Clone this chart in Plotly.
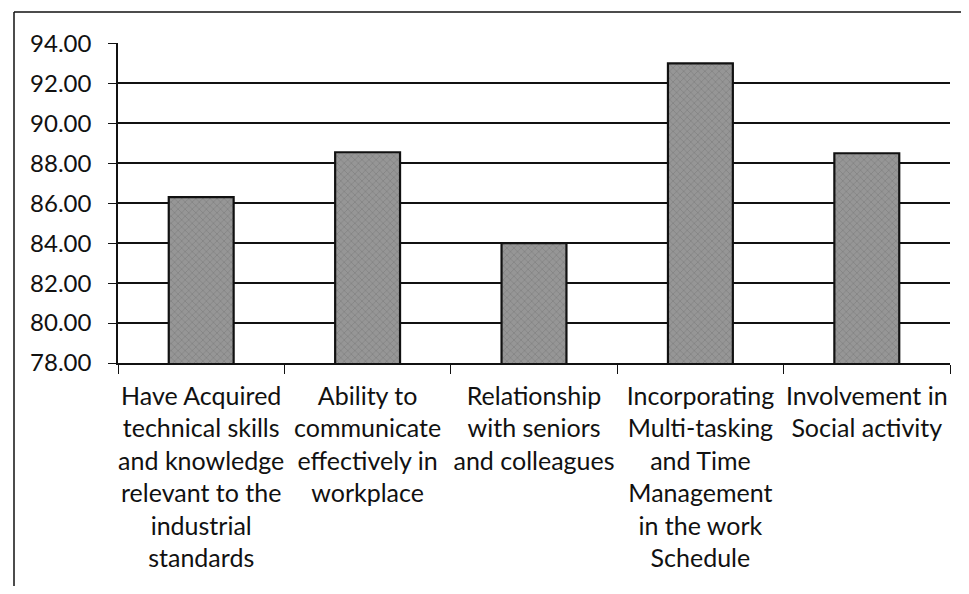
import plotly.graph_objects as go

categories = [
    "Have Acquired technical skills and knowledge relevant to the industrial standards",
    "Ability to communicate effectively in workplace",
    "Relationship with seniors and colleagues",
    "Incorporating Multi-tasking and Time Management in the work Schedule",
    "Involvement in Social activity",
]
tick_labels = [
    "Have Acquired<br>technical skills<br>and knowledge<br>relevant to the<br>industrial<br>standards",
    "Ability to<br>communicate<br>effectively in<br>workplace",
    "Relationship<br>with seniors<br>and colleagues",
    "Incorporating<br>Multi-tasking<br>and Time<br>Management<br>in the work<br>Schedule",
    "Involvement in<br>Social activity",
]
values = [86.30, 88.55, 84.00, 93.00, 88.50]
y_ticks = [78, 80, 82, 84, 86, 88, 90, 92, 94]

fig = go.Figure()
fig.add_trace(go.Bar(
    x=categories,
    y=values,
    marker=dict(
        color="#8a8a8a",
        line=dict(color="#111111", width=2.2),
        pattern=dict(shape="x", size=5, solidity=0.25, fgcolor="#6a6a6a", bgcolor="#969696"),
    ),
    showlegend=False,
))

border = dict(color="#111111", width=1.5)
fig.update_layout(
    width=953, height=578,
    margin=dict(l=110, r=11, t=35, b=223),
    paper_bgcolor="white", plot_bgcolor="white",
    bargap=0.61,
    font=dict(family="Lato", color="#111111"),
    shapes=[
        dict(type="line", xref="paper", yref="paper",
             x0=-0.125, x1=1.1, y0=1.097, y1=1.097, line=border, layer="below"),
        dict(type="line", xref="paper", yref="paper",
             x0=-0.125, x1=-0.125, y0=1.097, y1=-0.9, line=border, layer="below"),
    ],
)
fig.update_xaxes(
    tickvals=categories, ticktext=tick_labels,
    tickson="boundaries", ticks="outside", ticklen=9, tickcolor="#111111",
    showline=True, linecolor="#111111", linewidth=1.5,
    tickfont=dict(size=25, family="Lato"), tickangle=0,
    ticklabelstandoff=10,
    automargin=False,
)
fig.update_yaxes(
    range=[78, 94.02],
    tickvals=y_ticks,
    ticktext=[f"{t:.2f}" for t in y_ticks],
    ticks="outside", ticklen=8, tickcolor="#111111",
    showline=True, linecolor="#111111", linewidth=1.5,
    showgrid=True, gridcolor="#111111", gridwidth=1.5,
    tickfont=dict(size=24, family="Lato"),
    ticklabelstandoff=12,
    zeroline=False, automargin=False,
)
fig.write_html("out.html")
